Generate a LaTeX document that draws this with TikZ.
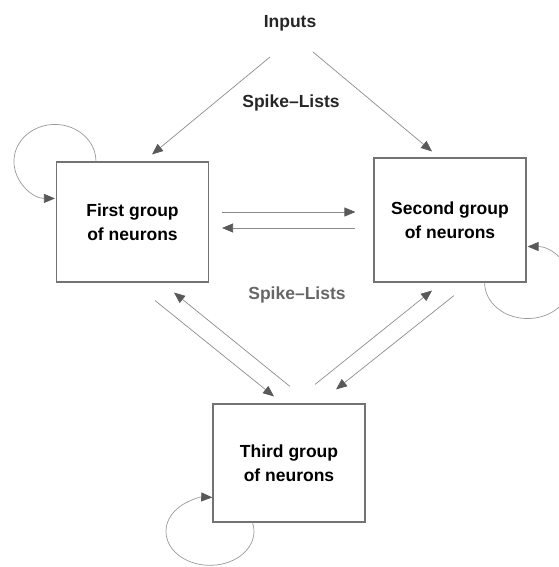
\documentclass[tikz,border=0pt]{standalone}
\usepackage{fontspec}
\setmainfont{Liberation Sans}
\usetikzlibrary{arrows.meta}

\begin{document}
\begin{tikzpicture}[x=1pt, y=1pt,
    box/.style={rectangle, draw=black!55, line width=1.1pt, minimum width=152pt, minimum height=120pt, align=center, font=\fontsize{17.5}{24}\selectfont\bfseries},
    tag/.style={font=\fontsize{17.5}{20}\selectfont\bfseries, text=black!85},
    arrow/.style={-{Triangle[length=11pt, width=9pt, color=black!65]}, draw=black!45, line width=0.7pt},
    loopy/.style={arrow, draw=black!40}
]
    \useasboundingbox (0,0) rectangle (558,567);

    % Inputs and labels
    \node[tag] (inputs) at (290,544) {Inputs};
    \node[tag] (spikesup) at (291,464) {Spike--Lists};
    \node[tag, text=black!60] (spikesdown) at (297,272) {Spike--Lists};

    % Groups of neurons
    \node[box] (first) at (132.5,345) {First group\\of neurons};
    \node[box, minimum height=124pt] (second) at (450,347) {Second group\\of neurons};
    \node[box, minimum height=118pt] (third) at (289,104) {Third group\\of neurons};

    % Inputs to the first two groups
    \draw[arrow] ([shift={(-20,-34)}]inputs.center) -- ([shift={(19.5,7)}]first.north);
    \draw[arrow] ([shift={(23,-29)}]inputs.center) -- ([shift={(-18,6)}]second.north);

    % First <-> second
    \draw[arrow] ([shift={(13,10)}]first.east) -- ([shift={(-18,8)}]second.west);
    \draw[arrow] ([shift={(-18,-8)}]second.west) -- ([shift={(13,-6)}]first.east);

    % First <-> third
    \draw[arrow] ([shift={(22.5,-18)}]first.south) -- ([shift={(-15,7)}]third.north);
    \draw[arrow] ([shift={(1,17)}]third.north) -- ([shift={(41.5,-10)}]first.south);

    % Second <-> third
    \draw[arrow] ([shift={(26,19)}]third.north) -- ([shift={(-18,-8)}]second.south);
    \draw[arrow] ([shift={(4,-13)}]second.south) -- ([shift={(47,14)}]third.north);

    % Self loops
    \draw[loopy] ([xshift=40pt]first.north west) arc[start angle=0, end angle=270, x radius=41pt, y radius=37pt];
    \draw[loopy] ([xshift=-42pt]second.south east) arc[start angle=180, end angle=450, x radius=43pt, y radius=36pt];
    \draw[loopy] ([xshift=40pt]third.south west) arc[start angle=15, end angle=-273, x radius=44pt, y radius=34pt];
\end{tikzpicture}
\end{document}
